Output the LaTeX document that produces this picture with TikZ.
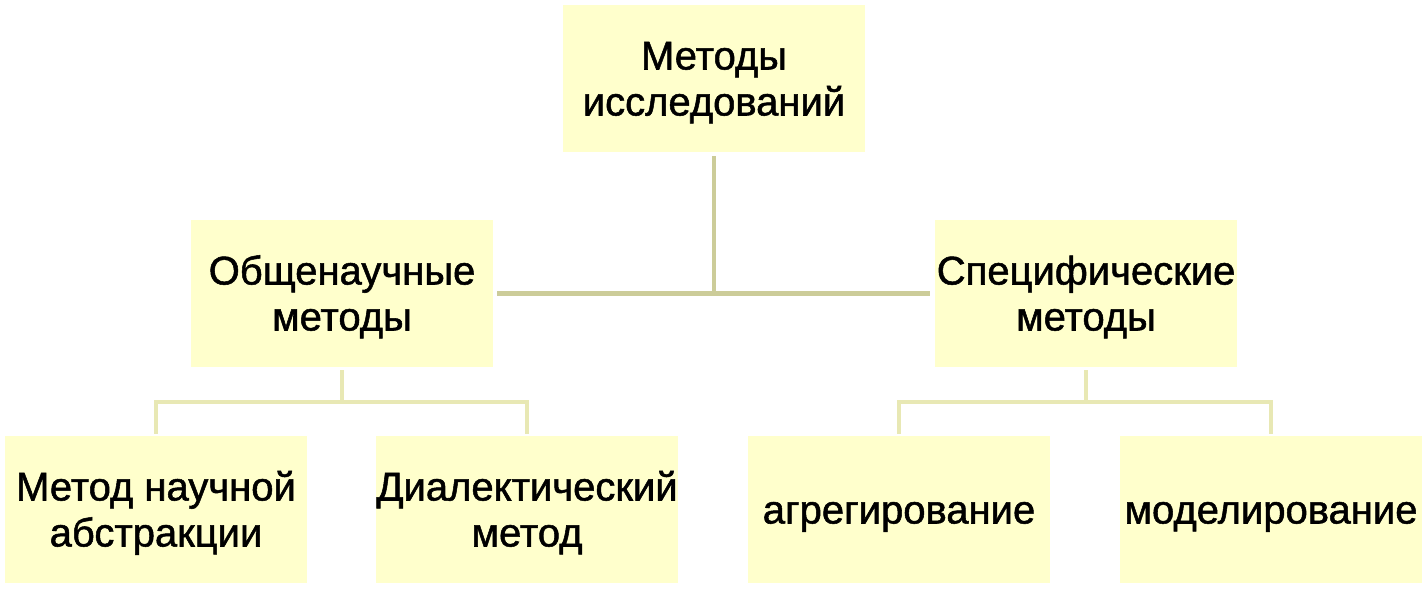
\documentclass[tikz,border=0pt]{standalone}
\usepackage{fontspec}
\setmainfont{Liberation Sans}[FakeBold=1.3]
\definecolor{boxfill}{HTML}{FFFFCC}
\definecolor{lineA}{HTML}{CCCC99}
\definecolor{lineB}{HTML}{E8E8B4}
\newcommand\boxlines[1]{\begin{tabular}{@{}c@{}}\rule{0pt}{20.9pt}#1\end{tabular}}
\begin{document}
\begin{tikzpicture}[x=0.5pt,y=-0.5pt,
  box/.style={fill=boxfill, draw=none, minimum width=151pt, minimum height=73.5pt,
    inner sep=0pt, font=\fontsize{20pt}{23pt}\selectfont},
  connA/.style={draw=lineA, line width=2.2pt},
  connB/.style={draw=lineB, line width=2pt, line join=miter, line cap=rect}]
\useasboundingbox[fill=white] (0,0) rectangle (1427,588);
\node[box] (top) at (714,78.5) {\boxlines{Методы\\исследований}};
\node[box] (L) at (342,293.5) {\boxlines{Общенаучные\\методы}};
\node[box] (R) at (1086,293.5) {\boxlines{Специфические\\методы}};
\node[box] (B1) at (156,509.5) {\boxlines{Метод научной\\абстракции}};
\node[box] (B2) at (527,509.5) {\boxlines{Диалектический\\метод}};
\node[box] (B3) at (899,509.5) {\boxlines{агрегирование}};
\node[box] (B4) at (1271,509.5) {\boxlines{моделирование}};
% top connectors
\coordinate (tj) at (top.south |- L.east);
\draw[connA] ([yshift=-2pt]top.south) -- (tj);
\draw[connA] ([xshift=2pt]L.east) -- ([xshift=-2.5pt]R.west);
% left group
\coordinate (lj) at ([yshift=-17.5pt]L.south);
\draw[connB] ([yshift=-2.5pt]L.south) -- (lj);
\draw[connB] ([yshift=2pt]B1.north) -- (B1.north |- lj) -- (B2.north |- lj) -- ([yshift=2pt]B2.north);
% right group
\coordinate (rj) at ([yshift=-17.5pt]R.south);
\draw[connB] ([yshift=-2.5pt]R.south) -- (rj);
\draw[connB] ([yshift=2pt]B3.north) -- (B3.north |- rj) -- (B4.north |- rj) -- ([yshift=2pt]B4.north);
\end{tikzpicture}
\end{document}
